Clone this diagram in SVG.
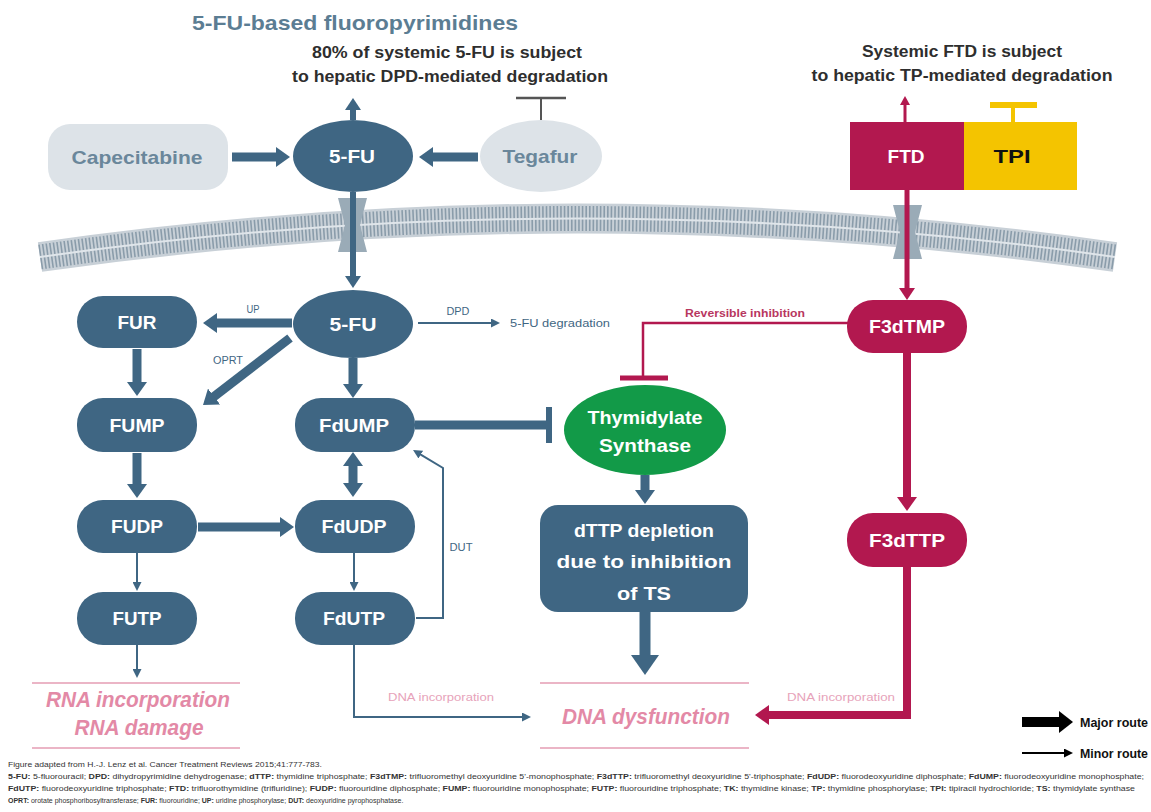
<svg xmlns="http://www.w3.org/2000/svg" width="1151" height="812" viewBox="0 0 1151 812">
<style>
text{font-family:"Liberation Sans Narrow","Liberation Sans",Arial,sans-serif;font-weight:bold}
.bn{fill:#3f6683}
.gn{fill:#dde3e8}
.cn{fill:#b2184f}
.yn{fill:#f4c400}
.tw{fill:#fff;font-size:19px;text-anchor:middle}
.tg{fill:#6a879b;font-size:19px;text-anchor:middle}
.hd{fill:#2e2e2e;font-size:16px;text-anchor:middle}
.sm{fill:#3f6683;font-size:10px;font-weight:normal}
.pk{fill:#e389a6;font-size:22px;font-style:italic;text-anchor:middle}
.pks{fill:#e7a3ba;font-size:10px;font-weight:normal;text-anchor:middle}
.fn{fill:#333;font-size:7px;font-weight:normal}
.fn tspan.b{font-weight:bold}
.lb{fill:none;stroke:#3f6683;stroke-width:9}
.lbm{fill:none;stroke:#3f6683;stroke-width:6}
.lt{fill:none;stroke:#3f6683;stroke-width:2}
.lc{fill:none;stroke:#b2184f;stroke-width:8}
.pl{fill:none;stroke:#ebb5c6;stroke-width:2}
</style>
<defs>
<marker id="hB" markerUnits="userSpaceOnUse" markerWidth="14" markerHeight="20" viewBox="0 0 14 20" refX="1" refY="10" orient="auto-start-reverse"><path d="M0,0L14,10L0,20z" fill="#3f6683"/></marker>
<marker id="hM" markerUnits="userSpaceOnUse" markerWidth="12" markerHeight="16" viewBox="0 0 12 16" refX="1" refY="8" orient="auto"><path d="M0,0L12,8L0,16z" fill="#3f6683"/></marker>
<marker id="hH" markerUnits="userSpaceOnUse" markerWidth="20" markerHeight="28" viewBox="0 0 20 28" refX="1" refY="14" orient="auto"><path d="M0,0L20,14L0,28z" fill="#3f6683"/></marker>
<marker id="hb" markerUnits="userSpaceOnUse" markerWidth="9" markerHeight="9" viewBox="0 0 9 9" refX="1" refY="4.5" orient="auto"><path d="M0,0L9,4.5L0,9z" fill="#3f6683"/></marker>
<marker id="hC" markerUnits="userSpaceOnUse" markerWidth="14" markerHeight="20" viewBox="0 0 14 20" refX="1" refY="10" orient="auto"><path d="M0,0L14,10L0,20z" fill="#b2184f"/></marker>
<marker id="hCM" markerUnits="userSpaceOnUse" markerWidth="12" markerHeight="16" viewBox="0 0 12 16" refX="1" refY="8" orient="auto"><path d="M0,0L12,8L0,16z" fill="#b2184f"/></marker>
<marker id="hc" markerUnits="userSpaceOnUse" markerWidth="9" markerHeight="10" viewBox="0 0 9 10" refX="1" refY="5" orient="auto"><path d="M0,0L9,5L0,10z" fill="#b2184f"/></marker>
<marker id="hK" markerUnits="userSpaceOnUse" markerWidth="14" markerHeight="22" viewBox="0 0 14 22" refX="1" refY="11" orient="auto"><path d="M0,0L14,11L0,22z" fill="#000"/></marker>
<marker id="hk" markerUnits="userSpaceOnUse" markerWidth="9" markerHeight="9" viewBox="0 0 9 9" refX="1" refY="4.5" orient="auto"><path d="M0,0L9,4.5L0,9z" fill="#000"/></marker>
</defs>
<rect width="1151" height="812" fill="#fff"/>

<!-- headings -->
<text x="355" y="30" font-size="21" fill="#5b7d93" text-anchor="middle" textLength="326" lengthAdjust="spacingAndGlyphs">5-FU-based fluoropyrimidines</text>
<text class="hd" x="447" y="58" textLength="270" lengthAdjust="spacingAndGlyphs">80% of systemic 5-FU is subject</text>
<text class="hd" x="450" y="82" textLength="316" lengthAdjust="spacingAndGlyphs">to hepatic DPD-mediated degradation</text>
<text class="hd" x="962" y="57" textLength="200" lengthAdjust="spacingAndGlyphs">Systemic FTD is subject</text>
<text class="hd" x="962" y="81" textLength="301" lengthAdjust="spacingAndGlyphs">to hepatic TP-mediated degradation</text>

<!-- membrane -->
<g id="membrane">
<path d="M40,257 Q578,180 1115,257" fill="none" stroke="#c8d0d7" stroke-width="30"/>
<path d="M40,257 Q578,180 1115,257" fill="none" stroke="#8a9caa" stroke-width="25" stroke-dasharray="1.6 2"/>
<path d="M40,257 Q578,180 1115,257" fill="none" stroke="#dfe5ea" stroke-width="2"/>
<path d="M338,198 L367,198 L360,225 L367,252 L338,252 L345,225 Z" fill="#9aabb7"/>
<path d="M893,205 L922,205 L915,232 L922,259 L893,259 L900,232 Z" fill="#9aabb7"/>
</g>

<!-- nodes -->
<g id="capecitabine"><rect class="gn" x="48" y="124" width="180" height="66" rx="22"/><text class="tg" x="137" y="164" textLength="131" lengthAdjust="spacingAndGlyphs">Capecitabine</text></g>
<g id="fu-top"><ellipse class="bn" cx="353" cy="156" rx="60" ry="36"/><text class="tw" x="352" y="163" textLength="46" lengthAdjust="spacingAndGlyphs">5-FU</text></g>
<g id="tegafur"><ellipse class="gn" cx="541" cy="156" rx="61" ry="36"/><text class="tg" x="540" y="163" textLength="75" lengthAdjust="spacingAndGlyphs">Tegafur</text></g>
<g id="ftd"><rect class="cn" x="850" y="122" width="114" height="68"/><text class="tw" x="906" y="163" textLength="37" lengthAdjust="spacingAndGlyphs">FTD</text></g>
<g id="tpi"><rect class="yn" x="964" y="122" width="113" height="68"/><text x="1012" y="163" font-size="19" fill="#111" text-anchor="middle" textLength="37" lengthAdjust="spacingAndGlyphs">TPI</text></g>
<g id="fu-low"><ellipse class="bn" cx="353" cy="324" rx="60" ry="34"/><text class="tw" x="353" y="331" textLength="47" lengthAdjust="spacingAndGlyphs">5-FU</text></g>
<g id="fur"><rect class="bn" x="77" y="296" width="120" height="52" rx="26"/><text class="tw" x="137" y="329" textLength="39" lengthAdjust="spacingAndGlyphs">FUR</text></g>
<g id="fump"><rect class="bn" x="77" y="398" width="120" height="54" rx="26"/><text class="tw" x="137" y="432" textLength="55" lengthAdjust="spacingAndGlyphs">FUMP</text></g>
<g id="fudp"><rect class="bn" x="77" y="500" width="120" height="53" rx="26"/><text class="tw" x="137" y="533" textLength="52" lengthAdjust="spacingAndGlyphs">FUDP</text></g>
<g id="futp"><rect class="bn" x="77" y="592" width="120" height="53" rx="26"/><text class="tw" x="137" y="625" textLength="49" lengthAdjust="spacingAndGlyphs">FUTP</text></g>
<g id="fdump"><rect class="bn" x="295" y="398" width="120" height="54" rx="26"/><text class="tw" x="354" y="432" textLength="70" lengthAdjust="spacingAndGlyphs">FdUMP</text></g>
<g id="fdudp"><rect class="bn" x="295" y="500" width="120" height="53" rx="26"/><text class="tw" x="354" y="533" textLength="65" lengthAdjust="spacingAndGlyphs">FdUDP</text></g>
<g id="fdutp"><rect class="bn" x="295" y="592" width="120" height="53" rx="26"/><text class="tw" x="354" y="625" textLength="62" lengthAdjust="spacingAndGlyphs">FdUTP</text></g>
<g id="ts"><ellipse cx="645" cy="430" rx="81" ry="45" fill="#129a48"/><text class="tw" x="645" y="424" textLength="115" lengthAdjust="spacingAndGlyphs">Thymidylate</text><text class="tw" x="645" y="452" textLength="92" lengthAdjust="spacingAndGlyphs">Synthase</text></g>
<g id="dttp"><rect class="bn" x="540" y="505" width="208" height="107" rx="18"/><text class="tw" x="644" y="537" textLength="140" lengthAdjust="spacingAndGlyphs">dTTP depletion</text><text class="tw" x="644" y="568" textLength="175" lengthAdjust="spacingAndGlyphs">due to inhibition</text><text class="tw" x="644" y="600" textLength="54" lengthAdjust="spacingAndGlyphs">of TS</text></g>
<g id="f3dtmp"><rect class="cn" x="847" y="300" width="120" height="53" rx="26"/><text class="tw" x="907" y="333" textLength="76" lengthAdjust="spacingAndGlyphs">F3dTMP</text></g>
<g id="f3dttp"><rect class="cn" x="847" y="513" width="120" height="54" rx="26"/><text class="tw" x="907" y="547" textLength="76" lengthAdjust="spacingAndGlyphs">F3dTTP</text></g>
<g id="rna">
<path class="pl" d="M32,683 L240,683 M32,748 L240,748"/>
<text class="pk" x="138" y="707" textLength="184" lengthAdjust="spacingAndGlyphs">RNA incorporation</text>
<text class="pk" x="139" y="735" textLength="129" lengthAdjust="spacingAndGlyphs">RNA damage</text>
</g>
<g id="dna">
<path class="pl" d="M540,683 L749,683 M540,748 L749,748"/>
<text class="pk" x="646" y="724" textLength="168" lengthAdjust="spacingAndGlyphs">DNA dysfunction</text>
</g>
<g id="fu-degradation"><text class="sm" x="510" y="327" textLength="100" lengthAdjust="spacingAndGlyphs">5-FU degradation</text></g>

<!-- connectors -->
<g id="connectors">
<path class="lb" d="M232,157 L277,157" marker-end="url(#hB)"/>
<path class="lb" d="M478,157 L432,157" marker-end="url(#hB)"/>
<path class="lbm" d="M353,120 L353,109" marker-end="url(#hM)"/>
<path class="lbm" d="M353,192 L353,277" marker-end="url(#hM)"/>
<path class="lb" d="M292,323 L216,323" marker-end="url(#hB)"/>
<path class="lb" d="M290,338 L213.3,397.1" marker-end="url(#hB)"/>
<path class="lb" d="M137,349 L137,383" marker-end="url(#hB)"/>
<path class="lb" d="M137,453 L137,485" marker-end="url(#hB)"/>
<path class="lb" d="M198,527 L281,527" marker-end="url(#hB)"/>
<path class="lb" d="M353,358 L353,385" marker-end="url(#hB)"/>
<path class="lb" d="M353,465 L353,484" marker-start="url(#hB)" marker-end="url(#hB)"/>
<path class="lb" d="M415,425 L547,425"/>
<path fill="none" stroke="#3f6683" stroke-width="6" d="M549,407 L549,443"/>
<path class="lb" d="M645,475 L645,491" marker-end="url(#hB)"/>
<path fill="none" stroke="#3f6683" stroke-width="11" d="M645,612 L645,656" marker-end="url(#hH)"/>
<path class="lt" d="M137,553 L137,583" marker-end="url(#hb)"/>
<path class="lt" d="M354,553 L354,583" marker-end="url(#hb)"/>
<path class="lt" d="M137,645 L137,670" marker-end="url(#hb)"/>
<path class="lt" d="M418,323 L492,323" marker-end="url(#hb)"/>
<path class="lt" d="M416,618 L443,618 L443,468 L419.9,454.1" marker-end="url(#hb)"/>
<path class="lt" d="M354,645 L354,717 L523,717" marker-end="url(#hb)"/>
<path fill="none" stroke="#555" stroke-width="2" d="M541,120 L541,98"/>
<path fill="none" stroke="#555" stroke-width="2.5" d="M516,98 L566,98"/>
<path fill="none" stroke="#b2184f" stroke-width="3" d="M905,122 L905,104" marker-end="url(#hc)"/>
<path fill="none" stroke="#f4c400" stroke-width="4" d="M1013,122 L1013,106"/>
<path fill="none" stroke="#f4c400" stroke-width="6" d="M990,105 L1037,105"/>
<path fill="none" stroke="#b2184f" stroke-width="5" d="M907,190 L907,289" marker-end="url(#hCM)"/>
<path fill="none" stroke="#b2184f" stroke-width="2.5" d="M848,323 L643,323 L643,378"/>
<path fill="none" stroke="#b2184f" stroke-width="5" d="M620,378 L668,378"/>
<path class="lc" d="M907,353 L907,498" marker-end="url(#hC)"/>
<path class="lc" d="M907,567 L907,715 L768,715" marker-end="url(#hC)"/>
<text class="sm" x="253" y="313" text-anchor="middle" textLength="13" lengthAdjust="spacingAndGlyphs">UP</text>
<text class="sm" x="228" y="364" text-anchor="middle" textLength="30" lengthAdjust="spacingAndGlyphs">OPRT</text>
<text class="sm" x="458" y="315" text-anchor="middle" textLength="23" lengthAdjust="spacingAndGlyphs">DPD</text>
<text class="sm" x="461" y="551" text-anchor="middle" textLength="23" lengthAdjust="spacingAndGlyphs">DUT</text>
<text x="745" y="317" font-size="10" font-weight="normal" fill="#b8375f" text-anchor="middle" textLength="120" lengthAdjust="spacingAndGlyphs">Reversible inhibition</text>
<text class="pks" x="441" y="701" textLength="106" lengthAdjust="spacingAndGlyphs">DNA incorporation</text>
<text class="pks" x="841" y="701" textLength="108" lengthAdjust="spacingAndGlyphs">DNA incorporation</text>
</g>

<!-- legend -->
<g id="legend">
<path fill="none" stroke="#000" stroke-width="10" d="M1022,722 L1060,722" marker-end="url(#hK)"/>
<path fill="none" stroke="#000" stroke-width="2" d="M1022,753 L1065,753" marker-end="url(#hk)"/>
<text x="1080" y="727" font-size="13" fill="#111" textLength="68" lengthAdjust="spacingAndGlyphs">Major route</text>
<text x="1080" y="758" font-size="13" fill="#111" textLength="68" lengthAdjust="spacingAndGlyphs">Minor route</text>
</g>

<!-- footnotes -->
<g id="footnotes">
<text class="fn" x="8" y="767" textLength="314" lengthAdjust="spacingAndGlyphs">Figure adapted from H.-J. Lenz et al. Cancer Treatment Reviews 2015;41:777-783.</text>
<text class="fn" x="8" y="779" textLength="1136" lengthAdjust="spacingAndGlyphs"><tspan class="b">5-FU:</tspan> 5-fluorouracil; <tspan class="b">DPD:</tspan> dihydropyrimidine dehydrogenase; <tspan class="b">dTTP:</tspan> thymidine triphosphate; <tspan class="b">F3dTMP:</tspan> trifluoromethyl deoxyuridine 5'-monophosphate; <tspan class="b">F3dTTP:</tspan> trifluoromethyl deoxyuridine 5'-triphosphate; <tspan class="b">FdUDP:</tspan> fluorodeoxyuridine diphosphate; <tspan class="b">FdUMP:</tspan> fluorodeoxyuridine monophosphate;</text>
<text class="fn" x="8" y="791" textLength="1127" lengthAdjust="spacingAndGlyphs"><tspan class="b">FdUTP:</tspan> fluorodeoxyuridine triphosphate; <tspan class="b">FTD:</tspan> trifluorothymidine (trifluridine); <tspan class="b">FUDP:</tspan> fluorouridine diphosphate; <tspan class="b">FUMP:</tspan> fluorouridine monophosphate; <tspan class="b">FUTP:</tspan> fluorouridine triphosphate; <tspan class="b">TK:</tspan> thymidine kinase; <tspan class="b">TP:</tspan> thymidine phosphorylase; <tspan class="b">TPI:</tspan> tipiracil hydrochloride; <tspan class="b">TS:</tspan> thymidylate synthase</text>
<text class="fn" x="8" y="803"><tspan class="b">OPRT:</tspan> orotate phosphoribosyltransferase; <tspan class="b">FUR:</tspan> fluorouridine; <tspan class="b">UP:</tspan> uridine phosphorylase; <tspan class="b">DUT:</tspan> deoxyuridine pyrophosphatase.</text>
</g>
</svg>
